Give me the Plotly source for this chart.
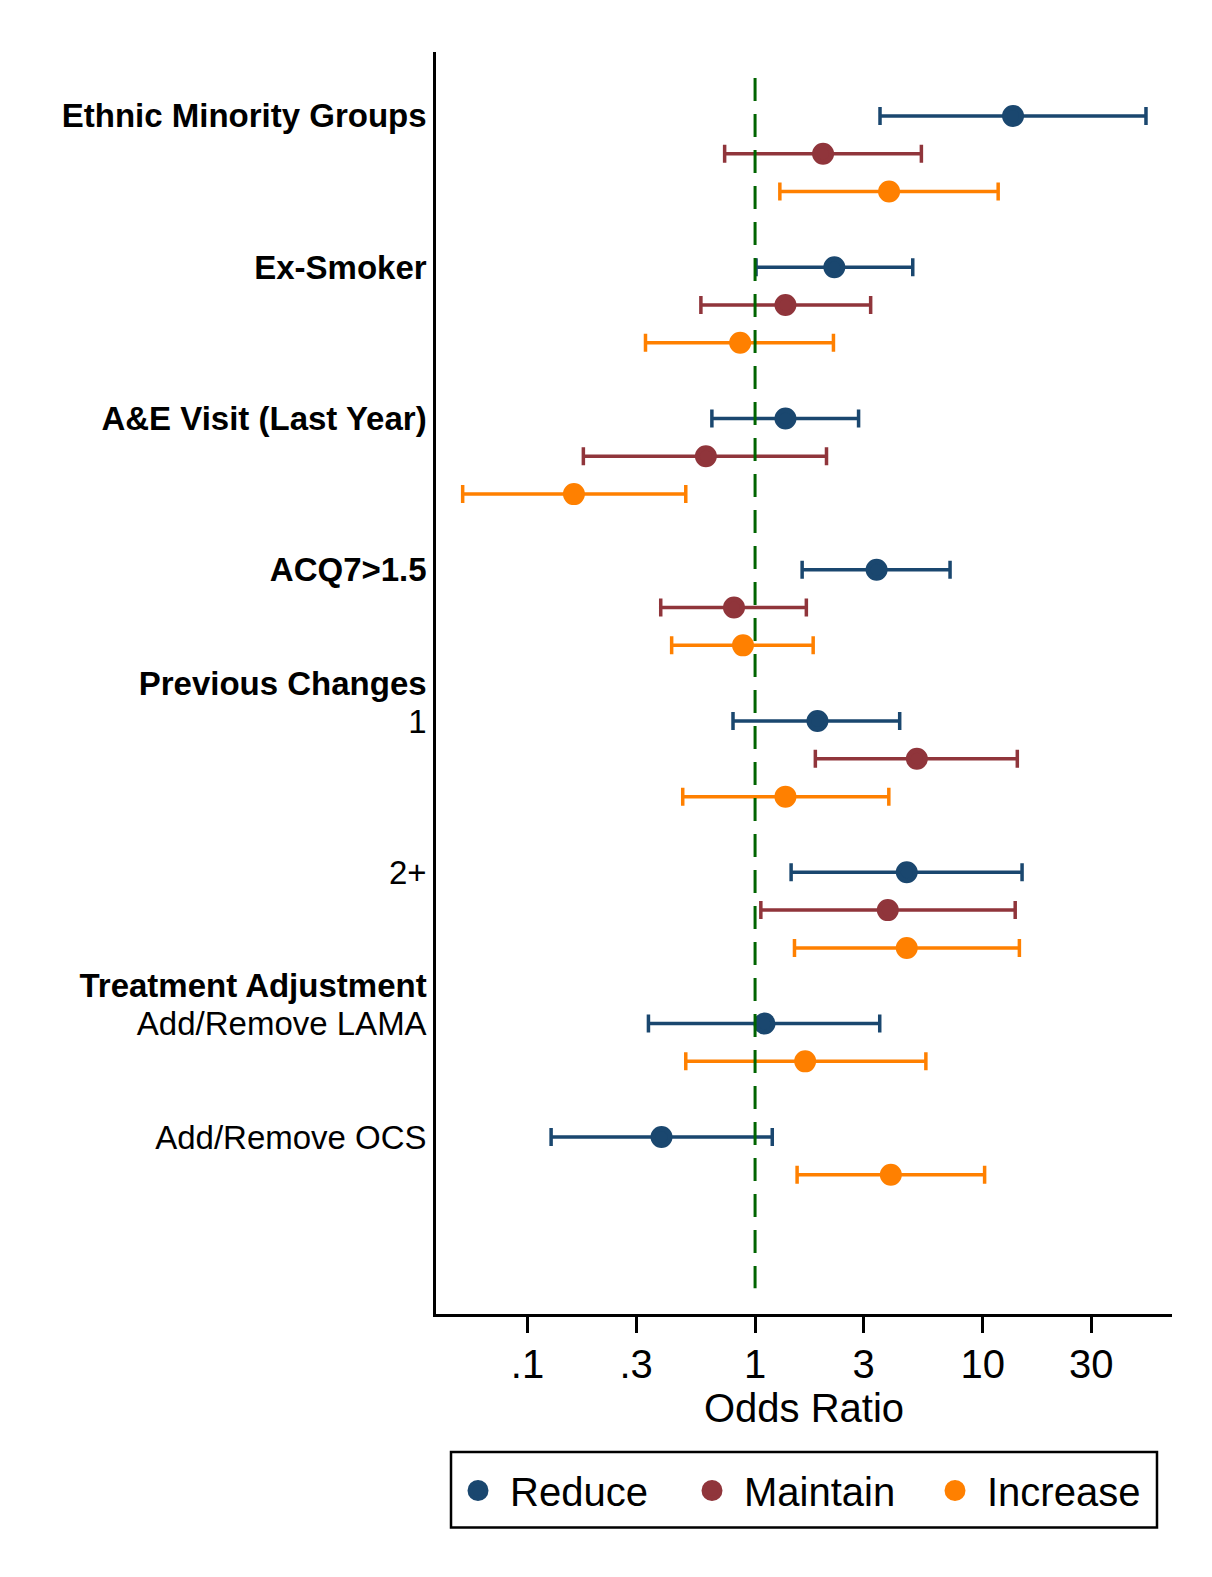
import plotly.graph_objects as go

# ---------------- data ----------------
categories = ["Ethnic Minority Groups", "Ex-Smoker", "A&E Visit (Last Year)", "ACQ7>1.5",
              "1", "2+", "Add/Remove LAMA", "Add/Remove OCS"]
category_bold = [True, True, True, True, False, False, False, False]
group_headers = {4: "Previous Changes", 6: "Treatment Adjustment"}

series_names = ["Reduce", "Maintain", "Increase"]
series_colors = ["#1a476f", "#90353b", "#ff8000"]

reduce_or = [13.6, 2.23, 1.36, 3.42, 1.88, 4.64, 1.10, 0.388]
reduce_lo = [3.54, 1.01, 0.646, 1.61, 0.80, 1.44, 0.340, 0.127]
reduce_hi = [52.2, 4.93, 2.85, 7.19, 4.32, 14.9, 3.53, 1.19]

maintain_or = [1.99, 1.36, 0.608, 0.808, 5.14, 3.83, None, None]
maintain_lo = [0.735, 0.578, 0.176, 0.385, 1.84, 1.06, None, None]
maintain_hi = [5.38, 3.22, 2.06, 1.68, 14.2, 13.9, None, None]

increase_or = [3.88, 0.86, 0.160, 0.885, 1.36, 4.64, 1.66, 3.95]
increase_lo = [1.285, 0.33, 0.0519, 0.43, 0.481, 1.49, 0.496, 1.53]
increase_hi = [11.7, 2.21, 0.496, 1.80, 3.87, 14.5, 5.63, 10.2]

x_tickvals = [0.1, 0.3, 1, 3, 10, 30]
x_ticktext = [".1", ".3", "1", "3", "10", "30"]
x_title = "Odds Ratio"

series_data = [(reduce_or, reduce_lo, reduce_hi),
               (maintain_or, maintain_lo, maintain_hi),
               (increase_or, increase_lo, increase_hi)]

# ---------------- row layout (one row per available estimate, gap after each category) --------
slots = {}
tick_vals, tick_text = [], []
s = 0
for ci, cat in enumerate(categories):
    if ci in group_headers:
        tick_vals.append(s - 1)
        tick_text.append("<b>%s</b>" % group_headers[ci])
    first = None
    for si, (orv, lo, hi) in enumerate(series_data):
        if orv[ci] is None:
            continue
        slots[(ci, si)] = s
        if first is None:
            first = s
        s += 1
    tick_vals.append(first)
    tick_text.append("<b>%s</b>" % cat if category_bold[ci] else cat)
    s += 1

FONT = "Liberation Sans, Arial, sans-serif"
OFF = 8  # page body margin
W, H = 1212 - OFF, 1577 - OFF
plot_left, plot_right, plot_top, plot_bottom = 436 - OFF, 1171.7 - OFF, 52 - OFF, 1314 - OFF
pw = plot_right - plot_left
ph = plot_bottom - plot_top


def px2paper_x(px):
    return (px - OFF - plot_left) / pw


def px2paper_y(py):
    return (plot_bottom - (py - OFF)) / ph


fig = go.Figure()

legend_widths = [165, 174, 150]
for si, name in enumerate(series_names):
    orv, lo, hi = series_data[si]
    xs, ys, ep, em = [], [], [], []
    for ci in range(len(categories)):
        if orv[ci] is None:
            continue
        xs.append(orv[ci])
        ys.append(slots[(ci, si)])
        ep.append(hi[ci] - orv[ci])
        em.append(orv[ci] - lo[ci])
    fig.add_trace(go.Scatter(
        x=xs, y=ys, mode="markers", name=name,
        marker=dict(color=series_colors[si], size=17,
                    line=dict(width=5, color=series_colors[si])),
        error_x=dict(type="data", symmetric=False, array=ep, arrayminus=em,
                     color=series_colors[si], thickness=3.5, width=9),
        legendwidth=legend_widths[si],
        hoverinfo="skip",
    ))

# reference line at OR = 1
fig.add_trace(go.Scatter(
    x=[1, 1], y=[-1.0, s + 1.0], mode="lines", showlegend=False,
    line=dict(color="#006400", width=3, dash="23px,13px"), hoverinfo="skip",
))

fig.update_layout(
    width=W, height=H,
    margin=dict(l=plot_left, r=W - plot_right, t=plot_top, b=H - plot_bottom, autoexpand=False),
    paper_bgcolor="white", plot_bgcolor="white",
    font=dict(family=FONT, color="black"),
    showlegend=True,
    legend=dict(
        orientation="h", x=px2paper_x(446), xanchor="left",
        y=px2paper_y(1458), yanchor="top",
        font=dict(size=40, family=FONT, color="black"),
        itemwidth=54, bgcolor="rgba(0,0,0,0)", borderwidth=0,
    ),
    shapes=[dict(type="rect", xref="paper", yref="paper",
                 x0=px2paper_x(451), x1=px2paper_x(1156.7),
                 y0=px2paper_y(1527.5), y1=px2paper_y(1452),
                 line=dict(color="black", width=2.5), fillcolor="rgba(0,0,0,0)")],
)

fig.update_xaxes(
    type="log", range=[-1.402, 1.832],
    tickvals=x_tickvals, ticktext=x_ticktext,
    ticks="outside", ticklen=16, tickwidth=2.5, tickcolor="black",
    showline=True, linewidth=2.5, linecolor="black",
    showgrid=False, zeroline=False,
    tickfont=dict(size=40, family=FONT, color="black"),
    ticklabelstandoff=-3,
    title=dict(text=x_title, font=dict(size=40, family=FONT, color="black"), standoff=0),
    automargin=False,
)
fig.update_yaxes(
    range=[31.68, -1.69],
    tickvals=tick_vals, ticktext=tick_text,
    ticks="", showline=True, linewidth=2.5, linecolor="black",
    showgrid=False, zeroline=False,
    tickfont=dict(size=33, family=FONT, color="black"),
    ticklabelstandoff=0,
    automargin=False,
)

fig.write_html("out.html")
